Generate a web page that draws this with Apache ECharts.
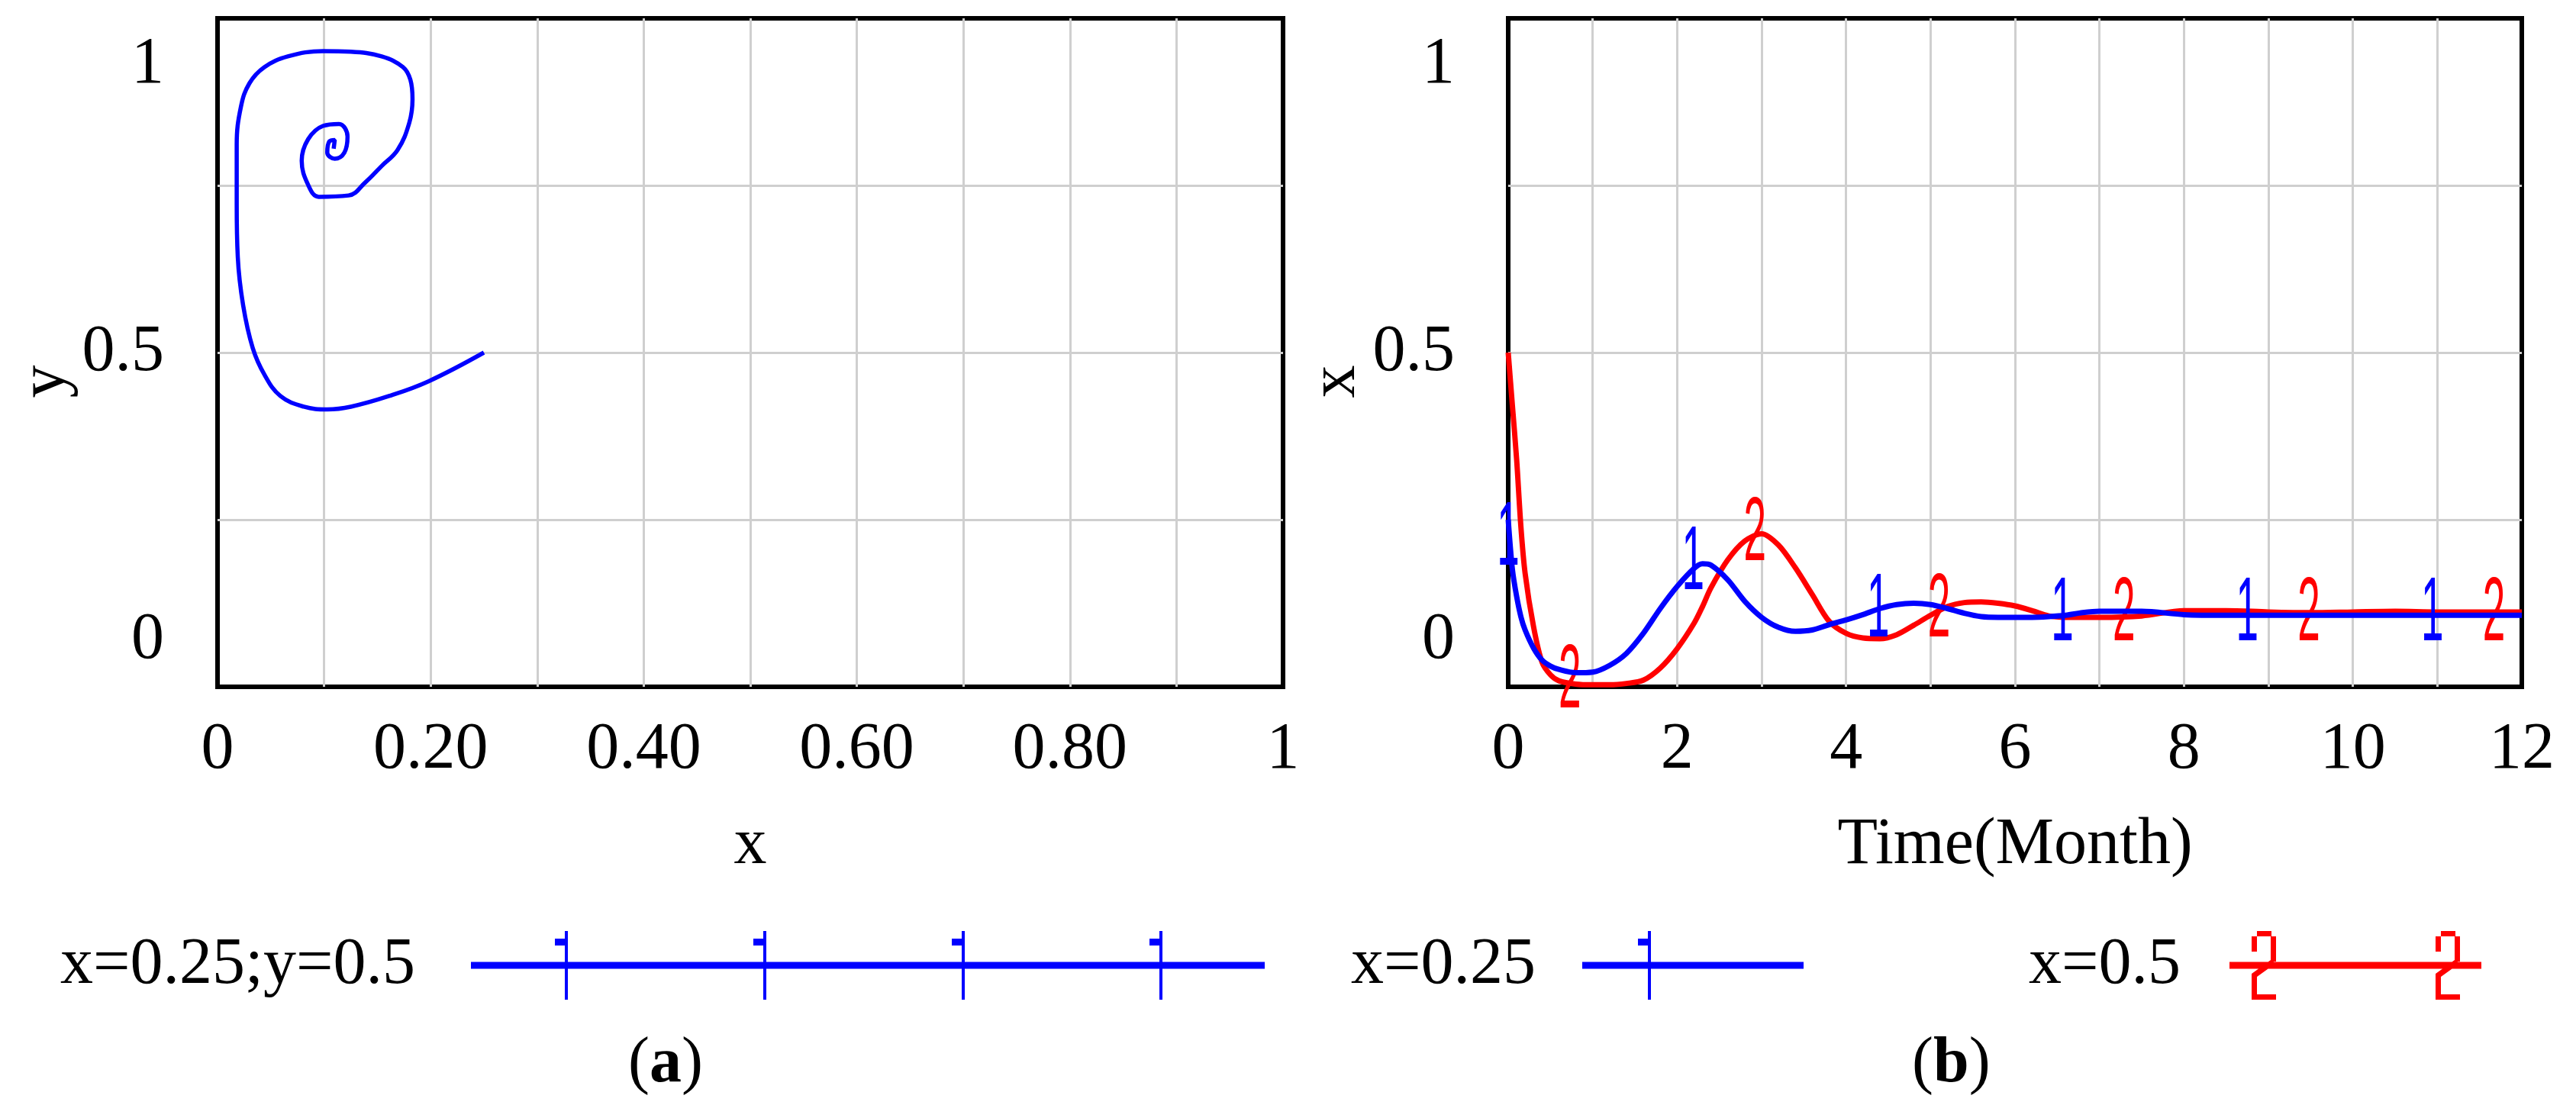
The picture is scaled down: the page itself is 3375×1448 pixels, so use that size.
<!DOCTYPE html>
<html>
<head>
<meta charset="utf-8">
<title>x and y trajectories</title>
<script src="https://cdn.jsdelivr.net/npm/echarts@6/dist/echarts.min.js"></script>
<style>
  html, body { margin: 0; padding: 0; background: #fff; }
  #chart { width: 3375px; height: 1448px; }
</style>
</head>
<body>
<div id="chart"></div>
<script>
// (a) phase plane x-y, start x=0.25, y=0.5
const phaseX = [0.25, 0.198, 0.161, 0.125, 0.103, 0.081, 0.059, 0.044, 0.033, 0.024, 0.019, 0.018, 0.018, 0.022, 0.030, 0.044, 0.066, 0.099, 0.125, 0.154, 0.174, 0.181, 0.183, 0.180, 0.169, 0.154, 0.139, 0.123, 0.095, 0.085, 0.079, 0.085, 0.099, 0.114, 0.122, 0.119, 0.110, 0.103, 0.105, 0.110, 0.109]
const phaseY = [0.5, 0.457, 0.435, 0.419, 0.415, 0.419, 0.435, 0.467, 0.507, 0.571, 0.643, 0.723, 0.811, 0.868, 0.903, 0.927, 0.943, 0.951, 0.950, 0.943, 0.927, 0.908, 0.879, 0.844, 0.803, 0.779, 0.755, 0.735, 0.733, 0.751, 0.787, 0.819, 0.839, 0.842, 0.823, 0.799, 0.790, 0.799, 0.816, 0.818, 0.805]

// (b) x over time for two starting values
const months = [0, 0.05, 0.1, 0.15, 0.2, 0.3, 0.4, 0.5, 0.6, 0.8, 1.0, 1.2, 1.4, 1.6, 1.8, 2.0, 2.2, 2.3, 2.4, 2.6, 2.8, 3.0, 3.2, 3.4, 3.6, 3.8, 4.0, 4.2, 4.4, 4.6, 4.8, 5.0, 5.2, 5.4, 5.6, 5.8, 6.0, 6.2, 6.4, 6.6, 6.8, 7.0, 7.5, 8.0, 8.5, 9.0, 9.5, 10.0, 10.5, 11.0, 11.5, 12.0]
const xFrom025 = [0.25, 0.175, 0.135, 0.105, 0.085, 0.058, 0.040, 0.031, 0.026, 0.021, 0.022, 0.032, 0.050, 0.080, 0.117, 0.150, 0.177, 0.184, 0.182, 0.160, 0.128, 0.104, 0.089, 0.083, 0.085, 0.093, 0.100, 0.108, 0.117, 0.123, 0.125, 0.123, 0.117, 0.110, 0.105, 0.104, 0.104, 0.104, 0.105, 0.107, 0.111, 0.113, 0.113, 0.108, 0.107, 0.107, 0.107, 0.107, 0.107, 0.107, 0.107, 0.107]
const xFrom05 = [0.5, 0.42, 0.34, 0.24, 0.17, 0.09, 0.037, 0.018, 0.009, 0.004, 0.003, 0.003, 0.005, 0.010, 0.028, 0.057, 0.095, 0.12, 0.148, 0.19, 0.218, 0.229, 0.212, 0.178, 0.138, 0.098, 0.080, 0.073, 0.072, 0.078, 0.092, 0.107, 0.12, 0.126, 0.127, 0.125, 0.121, 0.114, 0.106, 0.104, 0.104, 0.104, 0.106, 0.114, 0.114, 0.112, 0.111, 0.112, 0.113, 0.112, 0.112, 0.112]

// where the "1" and "2" curve tags sit in (b)
const tag1Month = [0, 2.19, 4.38, 6.56, 8.75, 10.94]
const tag1Value = [0.22, 0.183, 0.112, 0.107, 0.107, 0.107]
const tag2Month = [0.73, 2.92, 5.1, 7.29, 9.48, 11.67]
const tag2Value = [0.006, 0.227, 0.112, 0.107, 0.107, 0.107]

// tick labels
const xTicksA = ['0', '0.20', '0.40', '0.60', '0.80', '1']
const xTicksB = ['0', '2', '4', '6', '8', '10', '12']
const yTicks = ['0', '0.5', '1']

const BLUE = '#0000ff'
const RED = '#ff0000'
const SERIF = 'Liberation Serif, DejaVu Serif, serif'
const FS = 86

const chart = echarts.init(document.getElementById('chart'))

const labelStyle = {
  fontFamily: SERIF,
  fontSize: FS,
  fontWeight: 'normal',
  color: '#000'
}
const gridLine = {
  show: true,
  showMinLine: false,
  showMaxLine: false,
  lineStyle: { color: '#cfcfcf', width: 3 }
}

function yLabel(v) {
  const k = Math.round(v * 4)
  if (k === 0) return '{bot|' + yTicks[0] + '}'
  if (k === 2) return yTicks[1]
  if (k === 4) return '{top|' + yTicks[2] + '}'
  return ''
}

function yAxisFor(gridIndex, name) {
  return {
    gridIndex,
    type: 'value',
    min: 0,
    max: 1,
    interval: 0.25,
    axisLine: { show: false },
    axisTick: { show: false },
    splitLine: gridLine,
    axisLabel: {
      ...labelStyle,
      margin: 70,
      showMinLabel: true,
      showMaxLabel: true,
      formatter: yLabel,
      rich: {
        top: { ...labelStyle, padding: [122, 0, 0, 0] },
        bot: { ...labelStyle, padding: [0, 0, 122, 0] }
      }
    },
    name,
    nameLocation: 'middle',
    nameRotate: 90,
    nameGap: 180,
    nameTextStyle: { ...labelStyle, padding: [0, 76, 0, 0] }
  }
}

// legend icon: a line with the curve tags drawn on it
function rect(x0, y0, x1, y1) {
  return `M${x0},${y0}L${x1},${y0}L${x1},${y1}L${x0},${y1}Z`
}
function tagOne(c) {
  return rect(c - 2, 0, c + 2, 90) + rect(c - 15, 10, c - 2, 19)
}
function tagTwo(c) {
  return rect(c - 9, 0, c + 10, 7) + rect(c - 16, 7, c - 9, 27) + rect(c + 9, 7, c + 16, 40) +
    `M${c + 9},38L${c + 16},42L${c - 9},60L${c - 16},56Z` +
    rect(c - 16, 56, c - 9, 84) + rect(c - 16, 83, c + 16, 90)
}
function lineIcon(w, marks, tag) {
  let p = rect(0, 40.5, w, 49.5)
  marks.forEach(m => { p += tag(m) })
  return 'path://' + p
}
function legendItem(name, right, width, gap, icon) {
  return {
    data: [{ name, icon }],
    right,
    top: 1220,
    padding: 0,
    align: 'right',
    itemWidth: width,
    itemHeight: 90,
    selectedMode: false,
    itemStyle: { borderWidth: 0 },
    textStyle: { ...labelStyle, padding: [0, gap, 0, 0] }
  }
}

function curveTag(text, color) {
  return function (params, api) {
    const p = api.coord([api.value(0), api.value(1)])
    return {
      type: 'text',
      x: p[0],
      y: p[1],
      scaleX: 0.45,
      style: {
        text,
        fill: color,
        fontSize: 118,
        fontFamily: 'Liberation Sans, Arial, sans-serif',
        align: 'center',
        verticalAlign: 'middle'
      }
    }
  }
}

const captionStyle = {
  ...labelStyle,
  fontSize: 84,
  rich: { b: { ...labelStyle, fontSize: 84, fontWeight: 'bold' } }
}

chart.setOption({
  animation: false,
  backgroundColor: '#fff',
  title: [
    { text: '({b|a})', left: 823, top: 1353, padding: 0, textStyle: captionStyle },
    { text: '({b|b})', left: 2505, top: 1353, padding: 0, textStyle: captionStyle }
  ],
  legend: [
    legendItem('x=0.25;y=0.5', 1718, 1040, 68, lineIcon(1040, [125, 385, 645, 904], tagOne)),
    legendItem('x=0.25', 1012, 290, 56, lineIcon(290, [88], tagOne)),
    legendItem('x=0.5', 124, 330, 59, lineIcon(330, [45, 286], tagTwo))
  ],
  grid: [
    { left: 285, top: 24, width: 1396, height: 876, show: true, borderColor: '#000', borderWidth: 6 },
    { left: 1976, top: 24, width: 1328, height: 876, show: true, borderColor: '#000', borderWidth: 6 }
  ],
  xAxis: [
    {
      gridIndex: 0,
      type: 'value',
      min: 0,
      max: 1,
      interval: 0.1,
      axisLine: { show: false },
      axisTick: { show: false },
      splitLine: gridLine,
      axisLabel: {
        ...labelStyle,
        margin: 40,
        showMinLabel: true,
        showMaxLabel: true,
        formatter: v => {
          const k = Math.round(v * 10)
          return k % 2 === 0 ? xTicksA[k / 2] : ''
        }
      },
      name: 'x',
      nameLocation: 'middle',
      nameGap: 165,
      nameTextStyle: labelStyle
    },
    {
      gridIndex: 1,
      type: 'value',
      min: 0,
      max: 12,
      interval: 1,
      axisLine: { show: false },
      axisTick: { show: false },
      splitLine: gridLine,
      axisLabel: {
        ...labelStyle,
        margin: 40,
        showMinLabel: true,
        showMaxLabel: true,
        formatter: v => (v % 2 === 0 ? xTicksB[v / 2] : '')
      },
      name: 'Time(Month)',
      nameLocation: 'middle',
      nameGap: 165,
      nameTextStyle: labelStyle
    }
  ],
  yAxis: [yAxisFor(0, 'y'), yAxisFor(1, 'x')],
  series: [
    {
      name: 'x=0.25;y=0.5',
      type: 'line',
      xAxisIndex: 0,
      yAxisIndex: 0,
      data: phaseX.map((x, i) => [x, phaseY[i]]),
      symbol: 'none',
      smooth: 0.4,
      lineStyle: { color: BLUE, width: 5.5 },
      itemStyle: { color: BLUE }
    },
    {
      name: 'x=0.5',
      type: 'line',
      xAxisIndex: 1,
      yAxisIndex: 1,
      data: months.map((t, i) => [t, xFrom05[i]]),
      symbol: 'none',
      smooth: 0.3,
      lineStyle: { color: RED, width: 7 },
      itemStyle: { color: RED }
    },
    {
      name: 'x=0.25',
      type: 'line',
      xAxisIndex: 1,
      yAxisIndex: 1,
      data: months.map((t, i) => [t, xFrom025[i]]),
      symbol: 'none',
      smooth: 0.3,
      lineStyle: { color: BLUE, width: 7 },
      itemStyle: { color: BLUE }
    },
    {
      name: 'tag 2',
      type: 'custom',
      xAxisIndex: 1,
      yAxisIndex: 1,
      silent: true,
      z: 3,
      data: tag2Month.map((t, i) => [t, tag2Value[i]]),
      renderItem: curveTag('2', RED)
    },
    {
      name: 'tag 1',
      type: 'custom',
      xAxisIndex: 1,
      yAxisIndex: 1,
      silent: true,
      z: 4,
      data: tag1Month.map((t, i) => [t, tag1Value[i]]),
      renderItem: curveTag('1', BLUE)
    }
  ]
})
</script>
</body>
</html>
